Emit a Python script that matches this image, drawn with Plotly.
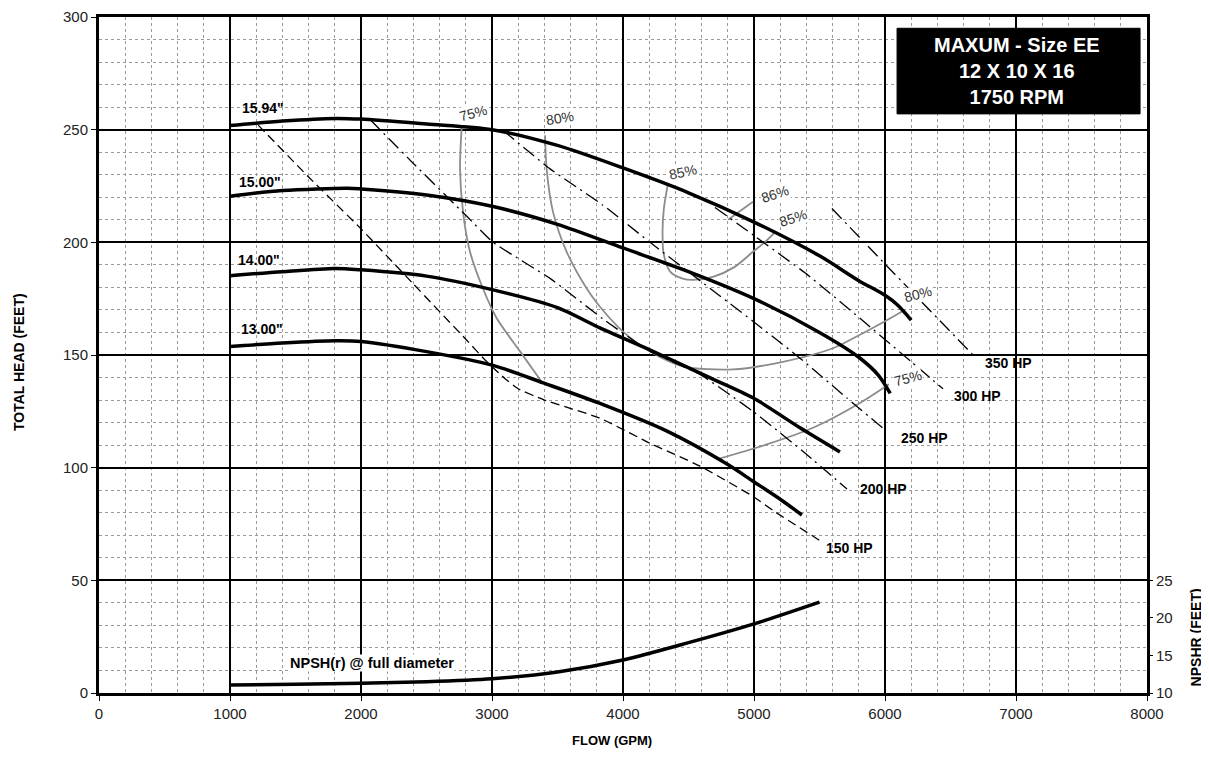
import plotly.graph_objects as go

# impeller diameter curves: flow (GPM) vs total head (ft)
flow_1594 = [1000, 1400, 1800, 2000, 2500, 3000, 3500, 4000, 4500, 5000, 5500, 5800, 6000, 6100, 6200]
head_1594 = [251.8, 253.8, 255, 254.7, 252.5, 250, 243, 233, 222, 209, 194, 183, 176.5, 172, 165.5]

flow_1500 = [1000, 1400, 1900, 2000, 2500, 3000, 3500, 4000, 4500, 5000, 5500, 5800, 5950, 6040]
head_1500 = [220.5, 223, 224, 223.7, 221, 216, 208, 197.5, 187, 175, 160, 149, 141, 133]

flow_1400 = [1000, 1400, 1800, 2000, 2500, 3000, 3500, 3824, 4229, 4641, 4992, 5351, 5656]
head_1400 = [185.2, 187, 188.4, 187.8, 185, 179, 171, 162, 151.6, 140.5, 131, 117.7, 107]

flow_1300 = [1000, 1400, 1800, 2000, 2500, 3008, 3392, 3824, 4336, 4794, 4992, 5200, 5366]
head_1300 = [153.8, 155.3, 156.3, 156, 151.5, 145.4, 137.6, 128.5, 116.2, 101.6, 94, 86, 79]

diameters = ['15.94"', '15.00"', '14.00"', '13.00"']

# horsepower lines
flow_150hp = [1215, 1600, 2000, 2400, 2800, 2960, 3100, 3200, 3400, 3824, 4200, 4588, 5000, 5145, 5504]
head_150hp = [252, 229, 206, 181.5, 157, 147, 139.5, 135, 130, 122, 111, 100.7, 87, 81, 67.6]

flow_200hp = [2069, 2400, 2800, 3008, 3443, 3847, 4206, 4588, 4992, 5400, 5710]
head_200hp = [254.5, 235, 212, 200, 184, 166, 151.6, 141.4, 125, 106, 90.5]

flow_250hp = [3086, 3443, 3847, 4206, 4588, 4992, 5351, 5707, 5985]
head_250hp = [249.6, 232.6, 216.5, 200, 183, 165, 148.6, 131, 117.5]

flow_300hp = [4702, 5000, 5400, 5809, 6200, 6443]
head_300hp = [215.5, 203, 186, 166.3, 147, 135]

flow_350hp = [5595, 5985, 6672]
head_350hp = [215, 191.3, 150]

# efficiency curves
flow_eff75a = [2769, 2756, 2779, 2832, 2931, 3036, 3214, 3380]
head_eff75a = [251.7, 232.6, 213.4, 195.8, 179.5, 166.3, 151.6, 138]

flow_eff80 = [3405, 3417, 3466, 3570, 3723, 3824, 4000, 4206, 4458, 4840, 5221, 5603, 5809, 6000, 6150]
head_eff80 = [247.5, 232.6, 213.4, 195.8, 179.5, 171.4, 160.4, 151.6, 145, 143.6, 147, 153, 159, 165, 170]

flow_eff85 = [4343, 4312, 4302, 4310, 4360, 4450, 4534, 4687, 4850, 4992, 5080, 5170]
head_eff85 = [226, 215, 205, 195, 187, 184, 183.3, 184.7, 189, 195.8, 200, 205]

flow_eff86 = [4802, 4992]
head_eff86 = [210, 218]

flow_eff75b = [4715, 5097, 5451, 5809, 6030]
head_eff75b = [103.7, 110.3, 117.7, 128.7, 137]

# NPSH required at full diameter (right axis, ft)
flow_npsh = [1000, 1500, 2000, 2500, 3000, 3500, 4000, 4500, 5000, 5500]
npshr = [11.05, 11.15, 11.3, 11.5, 11.9, 12.8, 14.4, 16.7, 19.2, 22.1]

FONT = "Liberation Sans, Arial, sans-serif"
DASHDOT = "14px,5px,2px,5px"

fig = go.Figure()

for fx, hy in [(flow_eff75a, head_eff75a), (flow_eff80, head_eff80), (flow_eff85, head_eff85),
               (flow_eff86, head_eff86), (flow_eff75b, head_eff75b)]:
    fig.add_trace(go.Scatter(x=fx, y=hy, mode='lines',
                             line=dict(color='#8c8c8c', width=1.8, shape='spline', smoothing=0.8)))

fig.add_trace(go.Scatter(x=flow_150hp, y=head_150hp, mode='lines',
                         line=dict(color='black', width=1.3, dash='9px,5px', shape='spline', smoothing=0.4)))
for fx, hy in [(flow_200hp, head_200hp), (flow_250hp, head_250hp),
               (flow_300hp, head_300hp), (flow_350hp, head_350hp)]:
    fig.add_trace(go.Scatter(x=fx, y=hy, mode='lines',
                             line=dict(color='black', width=1.3, dash=DASHDOT, shape='spline', smoothing=0.4)))

for fx, hy in [(flow_1594, head_1594), (flow_1500, head_1500),
               (flow_1400, head_1400), (flow_1300, head_1300)]:
    fig.add_trace(go.Scatter(x=fx, y=hy, mode='lines',
                             line=dict(color='black', width=3.5, shape='spline', smoothing=0.8)))

fig.add_trace(go.Scatter(x=flow_npsh, y=npshr, mode='lines', yaxis='y2',
                         line=dict(color='black', width=3.5, shape='spline', smoothing=0.8)))

# title box
fig.add_shape(type='rect', x0=6092, x1=7947, y0=257, y1=295, xref='x', yref='y',
              fillcolor='black', line=dict(color='black', width=1))
fig.add_annotation(x=7010, y=276, xref='x', yref='y', showarrow=False,
                   text='<b>MAXUM - Size EE<br>12 X 10 X 16<br>1750 RPM</b>',
                   font=dict(family=FONT, size=20, color='white'))

# diameter labels
for lbl, (lx, ly) in zip(diameters, [(1080, 259.5), (1057, 226.7), (1042, 192), (1065, 161.7)]):
    fig.add_annotation(x=lx, y=ly, text='<b>%s</b>' % lbl, showarrow=False, xanchor='left',
                       font=dict(family=FONT, size=14, color='black'))

# horsepower labels
for lbl, (lx, ly) in zip(['150 HP', '200 HP', '250 HP', '300 HP', '350 HP'],
                         [(5534, 64.5), (5794, 90.6), (6105, 113), (6511, 131.7), (6750, 146.5)]):
    fig.add_annotation(x=lx, y=ly, text='<b>%s</b>' % lbl, showarrow=False, xanchor='left',
                       font=dict(family=FONT, size=14, color='black'))

# efficiency labels
for lbl, (lx, ly), ang in zip(['75%', '80%', '85%', '86%', '85%', '80%', '75%'],
                              [(2855, 257.6), (3519, 255), (4458, 231), (5160, 221.4),
                               (5298, 211), (6252, 177), (6176, 139.6)],
                              [-15, -10, -12, -18, -18, -15, -15]):
    fig.add_annotation(x=lx, y=ly, text=lbl, showarrow=False, textangle=ang,
                       bgcolor='white', borderpad=0,
                       font=dict(family=FONT, size=14, color='#333333'))

fig.add_annotation(x=1450, y=13.3, text='<b>NPSH(r) @ full diameter</b>', showarrow=False,
                   xanchor='left', bgcolor='white', borderpad=0,
                   font=dict(family=FONT, size=14.5, color='black'))

# axis titles
fig.add_annotation(x=-0.077, y=0.49, xref='paper', yref='paper', xanchor='center',
                   text='<b>TOTAL HEAD (FEET)</b>',
                   showarrow=False, textangle=-90, font=dict(family=FONT, size=14, color='black'))
fig.add_annotation(x=0.4895, y=-0.084, xref='paper', yref='paper', xanchor='center',
                   text='<b>FLOW (GPM)</b>',
                   showarrow=False, font=dict(family=FONT, size=13, color='black'))
fig.add_annotation(x=1.0468, y=24.7, xref='paper', yref='y', xanchor='center',
                   text='<b>NPSHR (FEET)</b>',
                   showarrow=False, textangle=-90, font=dict(family=FONT, size=14, color='black'))

# page adds an 8px body margin, so the figure is sized to fit inside the window
fig.update_layout(
    width=1201, height=755,
    margin=dict(l=91, r=62, t=9, b=70, autoexpand=False),
    paper_bgcolor='white', plot_bgcolor='white',
    showlegend=False,
    font=dict(family=FONT, size=15, color='#222222'),
    xaxis=dict(range=[0, 8000], dtick=1000, tick0=0, automargin=False,
               showgrid=True, gridcolor='black', gridwidth=1.5,
               minor=dict(dtick=200, showgrid=True, gridcolor='#9a9a9a', griddash='dot', gridwidth=1),
               showline=True, linecolor='black', linewidth=3, mirror=True,
               ticks='outside', ticklen=5, tickcolor='black', zeroline=False),
    yaxis=dict(range=[0, 300], dtick=50, tick0=0, automargin=False, ticklabeloverflow='allow',
               showgrid=True, gridcolor='black', gridwidth=1.5,
               minor=dict(dtick=10, showgrid=True, gridcolor='#9a9a9a', griddash='dot', gridwidth=1),
               showline=True, linecolor='black', linewidth=3, mirror=True,
               ticks='outside', ticklen=5, tickcolor='black', zeroline=False),
    yaxis2=dict(range=[10, 100], overlaying='y', side='right', showgrid=False, automargin=False,
                tickvals=[10, 15, 20, 25], ticks='outside', ticklen=5, tickcolor='black',
                showline=False, zeroline=False),
)

fig.write_html("out.html")
